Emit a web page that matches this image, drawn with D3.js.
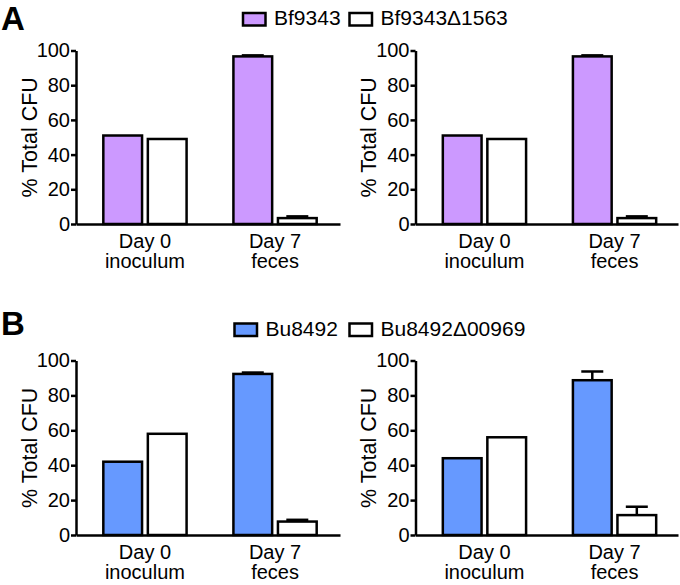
<!DOCTYPE html>
<html>
<head>
<meta charset="utf-8">
<script src="https://cdn.jsdelivr.net/npm/d3@7"></script>
<style>
  html, body { margin: 0; padding: 0; background: #fff; }
  svg { display: block; font-family: "Liberation Sans", Arial, sans-serif; }
</style>
</head>
<body>
<svg id="chart" width="680" height="585"></svg>
<script>
// ---- data ----
const groups = ["Day 0\ninoculum", "Day 7\nfeces"];
const yTicks = [0, 20, 40, 60, 80, 100];
const seriesA = ["Bf9343", "Bf9343Δ1563"];
const seriesB = ["Bu8492", "Bu8492Δ00969"];
const colorsA = ["#cc99ff", "#ffffff"];
const colorsB = ["#6699ff", "#ffffff"];

// panel A, left plot (mean per group for each series, and SEM)
const a1Wild = [51, 96.6];
const a1Mut = [49, 3.4];
const a1WildErr = [0, 0.6];
const a1MutErr = [0, 1.0];
// panel A, right plot
const a2Wild = [51, 96.6];
const a2Mut = [49, 3.4];
const a2WildErr = [0, 0.6];
const a2MutErr = [0, 1.0];
// panel B, left plot
const b1Wild = [42, 92.3];
const b1Mut = [58, 7.7];
const b1WildErr = [0, 0.8];
const b1MutErr = [0, 1.0];
// panel B, right plot
const b2Wild = [44, 88.7];
const b2Mut = [56, 11.4];
const b2WildErr = [0, 5.0];
const b2MutErr = [0, 4.8];

const svg = d3.select("#chart");
const SW = 2.5;

function plot(opt) {
  const { x0, x1, yTop, yBot, series, colors, wild, mut, wildErr, mutErr } = opt;
  const g = svg.append("g");
  const y = d3.scaleLinear().domain([0, 100]).range([yBot, yTop]);
  const xo = d3.scaleBand().domain(groups).range([x0, x0 + 268])
    .paddingInner(0.36).paddingOuter(0.21);
  const xi = d3.scaleBand().domain(series).range([0, xo.bandwidth()]).paddingInner(0.13);

  const vals = [wild, mut];
  const errs = [wildErr, mutErr];
  const rows = [];
  groups.forEach((gr, gi) => {
    series.forEach((s, si) => {
      rows.push({ gr, s, si, v: vals[si][gi], e: errs[si][gi] });
    });
  });

  // error bars (upper only)
  const eb = g.append("g").attr("stroke", "#000").attr("stroke-width", SW);
  rows.filter(d => d.e > 0).forEach(d => {
    const cx = xo(d.gr) + xi(d.s) + xi.bandwidth() / 2;
    eb.append("line").attr("x1", cx).attr("x2", cx)
      .attr("y1", y(d.v)).attr("y2", y(d.v + d.e));
    eb.append("line").attr("x1", cx - 11).attr("x2", cx + 11)
      .attr("y1", y(d.v + d.e)).attr("y2", y(d.v + d.e));
  });

  // bars
  g.append("g").selectAll("rect").data(rows).join("rect")
    .attr("x", d => xo(d.gr) + xi(d.s))
    .attr("width", xi.bandwidth())
    .attr("y", d => y(d.v))
    .attr("height", d => y(0) - y(d.v))
    .attr("fill", d => colors[d.si])
    .attr("stroke", "#000")
    .attr("stroke-width", SW);

  // y axis
  const ya = g.append("g").attr("transform", `translate(${x0},0)`)
    .call(d3.axisLeft(y).tickValues(yTicks).tickSize(5).tickPadding(1).tickSizeOuter(0));
  ya.select(".domain").attr("stroke-width", SW);
  ya.selectAll(".tick line").attr("stroke-width", SW);
  ya.selectAll(".tick text").attr("font-size", 20).attr("fill", "#000")
    .attr("font-family", "Liberation Sans, Arial, sans-serif");

  // x axis
  const xs = d3.scaleLinear().domain([0, 1]).range([x0, x1]);
  const xa = g.append("g").attr("transform", `translate(0,${yBot})`)
    .call(d3.axisBottom(xs).ticks(0).tickSize(0).tickSizeOuter(0));
  xa.select(".domain").attr("stroke-width", SW);

  // x category labels
  groups.forEach(gr => {
    const cx = xo(gr) + xo.bandwidth() / 2;
    const lines = gr.split("\n");
    const t = g.append("text").attr("text-anchor", "middle").attr("font-size", 20)
      .attr("x", cx).attr("y", yBot + 23.5);
    lines.forEach((ln, i) => {
      t.append("tspan").attr("x", cx).attr("dy", i === 0 ? 0 : 20.5).text(ln);
    });
  });

  // y title
  g.append("text")
    .attr("transform", `translate(${x0 - 39.5},${(yTop + yBot) / 2}) rotate(-90)`)
    .attr("text-anchor", "middle").attr("font-size", 21.5)
    .text("% Total CFU");
}

function legend(yTopSw, xSw1, xSw2, series, colors) {
  const lg = svg.append("g");
  [xSw1, xSw2].forEach((xs, i) => {
    lg.append("rect").attr("x", xs).attr("y", yTopSw).attr("width", 22.5).attr("height", 12.5)
      .attr("fill", colors[i]).attr("stroke", "#000").attr("stroke-width", SW);
    lg.append("text").attr("x", xs + 31).attr("y", yTopSw + 12.3).attr("font-size", 21)
      .text(series[i]);
  });
}

// panel letters
svg.append("text").attr("x", 1).attr("y", 30).attr("font-size", 33).attr("font-weight", "bold").text("A");
svg.append("text").attr("x", 1).attr("y", 335).attr("font-size", 33).attr("font-weight", "bold").text("B");

legend(13, 243, 349.5, seriesA, colorsA);
legend(323.5, 234.5, 349.5, seriesB, colorsB);

plot({ x0: 76, x1: 340, yTop: 50.5, yBot: 224, series: seriesA, colors: colorsA,
       wild: a1Wild, mut: a1Mut, wildErr: a1WildErr, mutErr: a1MutErr });
plot({ x0: 415.5, x1: 678, yTop: 50.5, yBot: 224, series: seriesA, colors: colorsA,
       wild: a2Wild, mut: a2Mut, wildErr: a2WildErr, mutErr: a2MutErr });
plot({ x0: 76, x1: 340, yTop: 360.5, yBot: 535, series: seriesB, colors: colorsB,
       wild: b1Wild, mut: b1Mut, wildErr: b1WildErr, mutErr: b1MutErr });
plot({ x0: 415.5, x1: 678, yTop: 360.5, yBot: 535, series: seriesB, colors: colorsB,
       wild: b2Wild, mut: b2Mut, wildErr: b2WildErr, mutErr: b2MutErr });
</script>
</body>
</html>
